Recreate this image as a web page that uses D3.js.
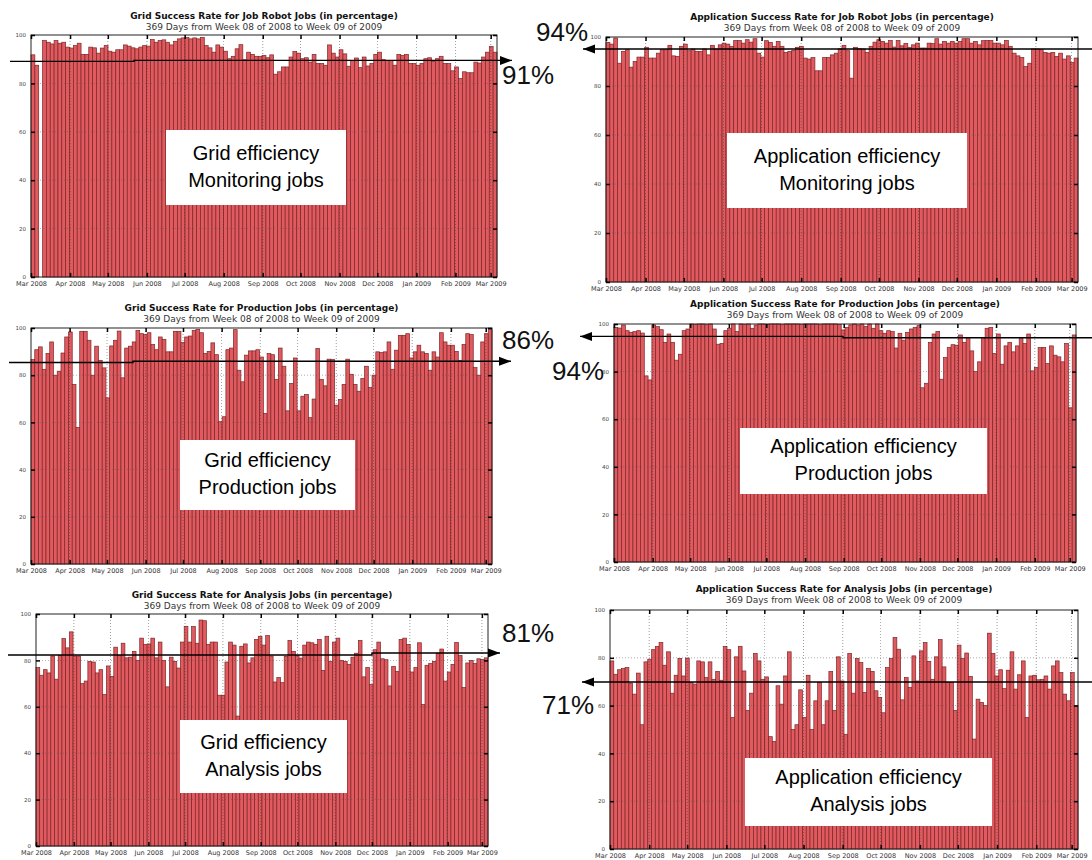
<!DOCTYPE html>
<html><head><meta charset="utf-8">
<script src="https://cdn.jsdelivr.net/npm/d3@7"></script>
<style>body{margin:0;background:#fff}svg{display:block}</style>
</head><body>
<svg id="c" width="1092" height="860"></svg>
<script>
const monthLabels = ["Mar 2008","Apr 2008","May 2008","Jun 2008","Jul 2008","Aug 2008","Sep 2008","Oct 2008","Nov 2008","Dec 2008","Jan 2009","Feb 2009","Mar 2009"];
const yTicks = [0,20,40,60,80,100];
const titles = [
  "Grid Success Rate for Job Robot Jobs (in percentage)",
  "Application Success Rate for Job Robot Jobs (in percentage)",
  "Grid Success Rate for Production Jobs (in percentage)",
  "Application Success Rate for Production Jobs (in percentage)",
  "Grid Success Rate for Analysis Jobs (in percentage)",
  "Application Success Rate for Analysis Jobs (in percentage)"
];
const subtitle = "369 Days from Week 08 of 2008 to Week 09 of 2009";
const boxLabels = [
  ["Grid efficiency","Monitoring jobs"],
  ["Application efficiency","Monitoring jobs"],
  ["Grid efficiency","Production jobs"],
  ["Application efficiency","Production jobs"],
  ["Grid efficiency","Analysis jobs"],
  ["Application efficiency","Analysis jobs"]
];
const averageLabels = ["91%","94%","86%","94%","81%","71%"];
// average line levels (left part, right part)
const averageLevels = [[89.1,89.5],[95.1,95.1],[85.4,85.9],[94.8,94.2],[82.3,83.2],[69.9,69.9]];

const gridRobot = [91.8,87.5,0,97.7,97,96.3,97.7,96.6,97,95,94.6,95.6,96.6,92,92,95,94.7,92.5,94.6,95.6,93.3,92.9,93.9,93.9,95.9,95.4,94.7,94.3,95,95.6,95.4,98.1,97,97.7,98,97,95.9,97.4,98.4,98.8,99,98.4,98.8,98.4,99,95.6,94.7,92.9,95.9,95,93.3,90.2,91.2,94.3,96,89.8,92.9,92,91.2,
 91.2,91.6,90.6,91.8,83.8,84.8,86.8,86.8,90.9,93.2,92.5,90.2,90.6,88.8,92,88.2,88.2,87.5,95.9,92.5,90.9,93.9,92.2,87.1,89.5,90.5,86.5,90.9,87.2,88.2,92,92.9,89.8,89.5,89.5,87.5,92,91.6,92,88.2,88.2,87.5,88.2,90.2,90.6,89.1,90.2,91.2,88.2,88.2,85.2,86.8,82,84.8,84.4,84.4,88.8,88.4,90.9,92.9,95.2,92.9];

const appRobot = [97.8,97.1,99.6,89.3,94.1,94.8,87.7,90,91.8,91.8,95.8,91.4,91.4,93.4,94.8,94.8,96.6,92.3,92.1,96.2,97.1,94.4,95.1,94.1,94.1,95.1,92.7,96.6,95.1,96.8,97.5,97.1,96.2,98.6,98.6,97.5,98.9,97.9,99.3,93.4,91.8,98.5,97.8,96.2,98.2,96.2,93.7,94.1,94.5,95.8,96.2,91.4,91,91.6,86.2,
 86.2,91.6,91.6,92.7,93.4,95.2,96.6,94.4,83.2,95.8,95.2,95.1,93.7,96.2,97.9,98.9,98.2,97.5,98.6,95.9,98.6,96.4,97.3,95.8,96.8,97.5,95.5,95.5,97.5,97.3,99.3,97.1,98.2,97.5,98.2,97.5,98.2,99.3,99.3,97.5,98.2,96.8,98.5,98.6,98.6,97.5,97.5,96.8,98.6,96.2,93.4,92.3,91.6,87.9,89.3,95.1,95.1,94.8,93.7,93.4,93.7,92.1,93.4,91,92.3,89.6,91.4];

const gridProduction = [86.6,90.8,92,82.5,89.2,94.1,80,81.7,89.4,96.2,98.3,76.1,57.9,98.6,98.6,94.8,80,92.3,86.3,83.1,70.4,92.4,94.8,98.7,78.9,91.5,92.3,94.1,99,97.6,97.2,98,93,90.8,96.2,95.2,89.9,89.9,98.6,98.6,93.8,96.2,96.6,99,99.4,98,89.2,90.1,93.7,88.7,60.3,62.4,90.8,91.5,99.3,82.1,77.2,88.5,90.3,90.3,90.8,
 87.7,63.8,89.2,88.7,78.2,91.5,83.8,64.9,76.5,87.3,64.9,71.1,71.8,62,69.9,91.3,78.2,75.5,86.8,86.6,67.3,69.7,76.1,86.8,80.4,76.1,73.2,78.6,83.8,74.8,80,89.9,89.6,89.9,94.1,82.5,90.6,96.9,96.9,97.6,87.3,89.9,92.7,89.9,89.2,82.1,89.9,87.7,98,94.1,92.7,92.7,90.1,86.3,93,97.6,97.2,83.2,80,94.1,97.6,99.3];

const appProduction = [98.6,98.3,99.6,97.2,96.5,96.8,97.2,96.2,78.2,76.5,99.6,98.9,97.6,92.3,95.8,92.3,84.8,87.3,97.2,97.9,
 100,99.8,100,100,99.7,100,97.9,91.5,91.8,97.2,98.2,100,96.8,100,99.8,100,98.2,99.6,
 100,100,99.8,100,100,100,99.7,100,100,100,100,99.8,100,100,100,100,99.7,100,100,100,100,99.8,
 97.5,98.6,99.6,100,99.6,100,98.9,100,98.2,100,97.2,96.1,97.2,96.8,89.9,96.1,93.2,96.5,97.9,98.6,99.3,
 73.2,75.1,92.3,95.8,96.9,76.8,85.9,90.1,91.3,91.1,95.4,92.3,94.4,88.7,80,84.1,94.4,98.2,98.6,87.6,95.8,83.1,90.8,92.3,88.3,90.8,94.4,91.8,95.8,80.3,81.7,90.1,90.1,83.4,90.8,86.9,86.2,84.1,91.8,64.8,95.4];

const gridAnalysis = [76.9,73.6,76,74.6,81.9,71.9,82.1,89.4,85.4,92.3,81.9,81.9,70,71.1,79.6,79.3,74.6,76,65.3,77.6,73.1,85.7,82.1,87.4,81.1,81.4,83.9,80,89.6,86.9,87.1,89.6,81.1,87.9,80,68.6,81.4,79.6,76.7,87.9,94.7,87.9,94.6,87.4,97.4,97.1,86.9,87.9,87.9,65,65,79.3,87.9,
 86.6,56,86.1,87.1,78.9,81.1,89,90.4,86.6,90.7,81.9,70.7,72.6,70.4,81.7,88.6,83.9,82.1,81,86.6,87.9,87.6,86.9,89,75.7,90.4,79.6,87.9,89.6,80,79.6,78.3,81.4,83.1,88.6,72.9,76.9,69.6,84.6,87.9,80.7,80.3,69,77.4,75.3,89,89.6,86.9,75,76.9,87.6,61,77.9,78.6,79.6,83.1,84.9,71.1,75,78.3,87.7,82.1,68.3,78.9,80,78.6,80.7,80.4,81.1];

const appAnalysis = [78.7,73.1,75,75.5,75.9,69.4,64.8,73.6,52,78.3,79.4,83.4,84.8,86.4,76.9,82.5,65.2,72.7,79.7,72.4,79.9,69.7,69,78.7,78.3,71.7,78.3,71,74.3,70.6,84.8,83.4,55,80.4,84.8,74.5,58,65.2,81.8,78.7,71,72,47,45,68.3,60.6,72.4,82.5,50,52,66.6,55,72.7,50,62,69.7,52,62,74.3,58,80.4,70.3,48,81.8,65.2,79.7,78,65.5,75.5,74.3,66.2,63.4,57,75.9,79.7,88.5,83.6,62.4,71.7,67.6,80.8,70.3,82.9,86.4,78.5,71,80.4,87.6,76.2,69.7,69.7,58,85.3,79.7,82,72.2,46,62.7,61.3,60,90.3,81.8,72.4,75,67.1,74.8,82.5,66.9,72.9,78.7,55,72.4,72.7,70.8,71,72.4,66.9,76.6,78.7,73.8,64.8,62,73.8,60];

const series = [gridRobot, appRobot, gridProduction, appProduction, gridAnalysis, appAnalysis];

// layout (pixels)
const layout = [
  {x0:31,  x1:497,  y0:35,  y1:277, tY:19,  sY:30,  box:[166,130,180,75], pct:[528,84],  ln:{a:10,  b:512,  step:134, dir:"right"}},
  {x0:606, x1:1078, y0:37,  y1:282, tY:20,  sY:31,  box:[727,133,240,75], pct:[562,41],  ln:{a:583, b:1092, step:840, dir:"left"}},
  {x0:31,  x1:492,  y0:328, y1:564, tY:311, sY:322, box:[180,440,175,70], pct:[528,349], ln:{a:9,   b:511,  step:133, dir:"right"}},
  {x0:614, x1:1076, y0:324, y1:562, tY:307, sY:318, box:[740,428,247,66], pct:[578,380], ln:{a:580, b:1092, step:843, dir:"left"}},
  {x0:36,  x1:488,  y0:614, y1:846, tY:598, sY:609, box:[180,720,167,73], pct:[528,642], ln:{a:8,   b:500,  step:372, dir:"right"}},
  {x0:610, x1:1078, y0:610, y1:849, tY:592, sY:603, box:[745,758,247,68], pct:[568,714], ln:{a:582, b:1092, step:840, dir:"left"}}
];

const svg = d3.select("#c");
const tStart = new Date(2008,2,1), tEnd = new Date(2009,2,6);
const months = d3.timeMonth.range(new Date(2008,2,1), new Date(2009,2,2));

layout.forEach((L, k) => {
  const data = series[k];
  const g = svg.append("g");
  const x = d3.scaleTime().domain([tStart,tEnd]).range([L.x0,L.x1]);
  const xb = d3.scaleBand().domain(d3.range(data.length)).range([L.x0,L.x1]).padding(0);
  const y = d3.scaleLinear().domain([0,100]).range([L.y1,L.y0]);
  const cx = (L.x0+L.x1)/2;

  g.append("text").attr("x",cx).attr("y",L.tY).attr("text-anchor","middle")
    .attr("font-family","DejaVu Sans").attr("font-weight","bold").attr("font-size",9).attr("fill","#111").text(titles[k]);
  g.append("text").attr("x",cx).attr("y",L.sY).attr("text-anchor","middle")
    .attr("font-family","DejaVu Sans").attr("font-size",9).attr("fill","#333").text(subtitle);

  // bars
  g.append("g").selectAll("rect").data(data).join("rect")
    .attr("x",(d,i)=>xb(i)).attr("width",xb.bandwidth())
    .attr("y",d=>y(d)).attr("height",d=>y(0)-y(d))
    .attr("fill","#e05a60").attr("stroke","#7a2626").attr("stroke-width",0.7);

  // grid
  g.append("g").selectAll("line").data(yTicks.filter(v=>v>0&&v<100)).join("line")
    .attr("x1",L.x0).attr("x2",L.x1).attr("y1",d=>y(d)).attr("y2",d=>y(d))
    .attr("stroke","#555").attr("stroke-width",0.6).attr("stroke-dasharray","1,2").attr("opacity",0.8);
  g.append("g").selectAll("line").data(months.slice(1)).join("line")
    .attr("x1",d=>x(d)).attr("x2",d=>x(d)).attr("y1",L.y0).attr("y2",L.y1)
    .attr("stroke","#333").attr("stroke-width",0.6).attr("stroke-dasharray","1,2").attr("opacity",0.8);

  // frame
  g.append("rect").attr("x",L.x0).attr("y",L.y0).attr("width",L.x1-L.x0).attr("height",L.y1-L.y0)
    .attr("fill","none").attr("stroke","#222").attr("stroke-width",1);

  // x axis (bottom) with month labels
  const xAxis = d3.axisBottom(x).tickValues(months).tickSize(-4).tickPadding(6)
    .tickFormat((d,i)=>monthLabels[i]);
  const ax = g.append("g").attr("transform",`translate(0,${L.y1})`).call(xAxis);
  ax.select(".domain").remove();
  ax.selectAll("line").attr("stroke","#000").attr("stroke-width",1.5);
  ax.selectAll("text").attr("font-family","DejaVu Sans").attr("font-size",6.5).attr("fill","#333").attr("dy","0.5em");
  const axT = g.append("g").attr("transform",`translate(0,${L.y0})`).call(d3.axisTop(x).tickValues(months).tickSize(-4).tickFormat(""));
  axT.select(".domain").remove();
  axT.selectAll("line").attr("stroke","#000").attr("stroke-width",1.5);

  // y axis
  const ayl = g.append("g").attr("transform",`translate(${L.x0},0)`)
    .call(d3.axisLeft(y).tickValues(yTicks).tickSize(-4).tickPadding(5));
  ayl.select(".domain").remove();
  ayl.selectAll("line").attr("stroke","#000").attr("stroke-width",1.5);
  ayl.selectAll("text").attr("font-family","DejaVu Sans").attr("font-size",5.5).attr("fill","#444");
  const ayr = g.append("g").attr("transform",`translate(${L.x1},0)`)
    .call(d3.axisRight(y).tickValues(yTicks).tickSize(-4).tickFormat(""));
  ayr.select(".domain").remove();
  ayr.selectAll("line").attr("stroke","#000").attr("stroke-width",1.5);

  // text box
  const [bx,by,bw,bh] = L.box;
  g.append("rect").attr("x",bx).attr("y",by).attr("width",bw).attr("height",bh).attr("fill","#fff");
  boxLabels[k].forEach((t,j)=>{
    g.append("text").attr("x",bx+bw/2).attr("y",by+bh/2 + (j===0?-8:19)).attr("text-anchor","middle")
      .attr("font-family","Liberation Sans, Arial, sans-serif").attr("font-size",20).attr("fill","#000").text(t);
  });

  // average line with arrow
  const [vl,vr] = averageLevels[k];
  const ln = L.ln;
  const yl = y(vl), yr = y(vr);
  g.append("path").attr("d",`M${ln.a},${yl}H${ln.step}V${yr}H${ln.b}`)
    .attr("fill","none").attr("stroke","#000").attr("stroke-width",1.4);
  if (ln.dir==="right") {
    g.append("path").attr("d",`M${ln.b},${yr}l-12,-4.5v9z`).attr("fill","#000");
  } else {
    g.append("path").attr("d",`M${ln.a},${yl}l12,-4.5v9z`).attr("fill","#000");
  }
  g.append("text").attr("x",L.pct[0]).attr("y",L.pct[1]).attr("text-anchor","middle")
    .attr("font-family","Liberation Sans, Arial, sans-serif").attr("font-size",26).attr("fill","#111").text(averageLabels[k]);
});
</script>
</body></html>
